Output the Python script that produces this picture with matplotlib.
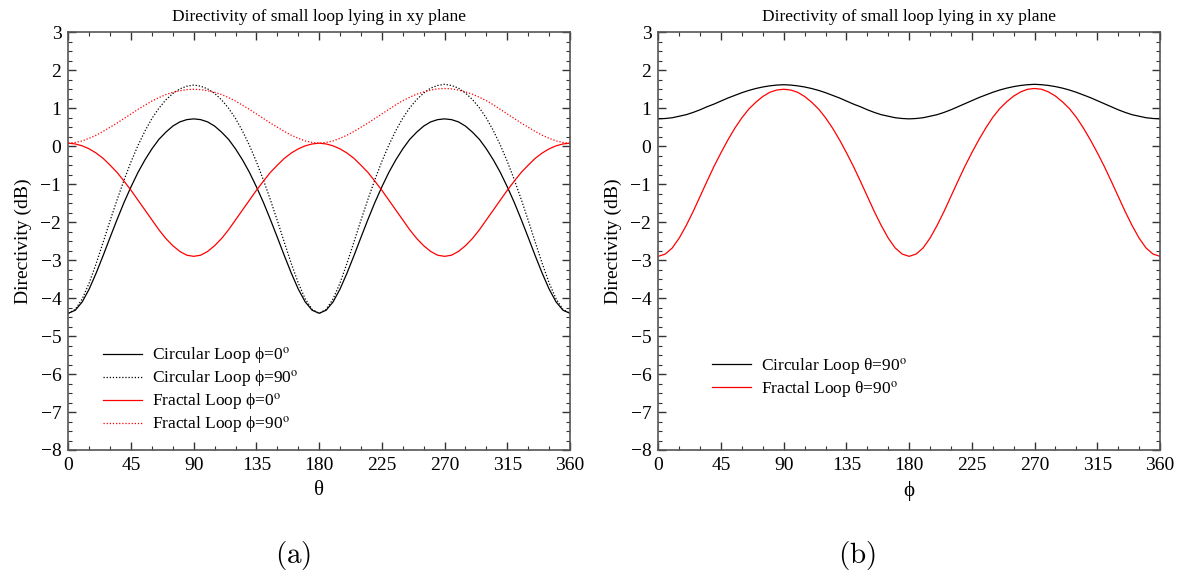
import numpy as np
import matplotlib
matplotlib.use('Agg')
import matplotlib.pyplot as plt
from matplotlib.ticker import MultipleLocator

plt.rcParams['font.family'] = ['Liberation Serif', 'DejaVu Serif']
plt.rcParams['mathtext.fontset'] = 'stix'

# angle grid, 5 degree steps (0..360)
angle = np.arange(0, 360.1, 5)

# (a) directivity vs theta  (quarters: 0-90, 95-180, 185-270, 275-360)
circ_phi0 = ([-4.40, -4.32, -4.10, -3.76, -3.34, -2.88, -2.40, -1.93, -1.48, -1.07, -0.69, -0.36, -0.07, 0.18, 0.37, 0.53, 0.64, 0.70, 0.72]
             + [0.70, 0.64, 0.53, 0.37, 0.18, -0.07, -0.36, -0.69, -1.07, -1.48, -1.93, -2.40, -2.88, -3.34, -3.76, -4.10, -4.32, -4.40]
             + [-4.32, -4.10, -3.76, -3.34, -2.88, -2.40, -1.93, -1.48, -1.07, -0.69, -0.36, -0.07, 0.18, 0.37, 0.53, 0.64, 0.70, 0.72]
             + [0.70, 0.64, 0.53, 0.37, 0.18, -0.07, -0.36, -0.69, -1.07, -1.48, -1.93, -2.40, -2.88, -3.34, -3.76, -4.10, -4.32, -4.40])
circ_phi90 = ([-4.40, -4.30, -4.02, -3.60, -3.09, -2.53, -1.96, -1.41, -0.89, -0.41, 0.02, 0.40, 0.73, 1.00, 1.22, 1.39, 1.51, 1.58, 1.61]
              + [1.58, 1.51, 1.39, 1.22, 1.00, 0.73, 0.40, 0.02, -0.41, -0.89, -1.41, -1.96, -2.53, -3.09, -3.60, -4.02, -4.30, -4.40]
              + [-4.30, -4.02, -3.60, -3.08, -2.52, -1.95, -1.40, -0.88, -0.40, 0.03, 0.41, 0.74, 1.01, 1.23, 1.40, 1.53, 1.60, 1.63]
              + [1.60, 1.53, 1.40, 1.23, 1.01, 0.74, 0.41, 0.03, -0.40, -0.88, -1.40, -1.95, -2.52, -3.08, -3.60, -4.02, -4.30, -4.40])
frac_phi0 = ([0.08, 0.06, 0.01, -0.07, -0.18, -0.32, -0.50, -0.69, -0.92, -1.16, -1.42, -1.68, -1.94, -2.20, -2.43, -2.62, -2.77, -2.87, -2.90]
             + [-2.87, -2.77, -2.62, -2.43, -2.20, -1.94, -1.68, -1.42, -1.16, -0.92, -0.69, -0.50, -0.32, -0.18, -0.07, 0.01, 0.06, 0.08]
             + [0.06, 0.01, -0.07, -0.18, -0.32, -0.50, -0.69, -0.92, -1.16, -1.42, -1.68, -1.94, -2.20, -2.43, -2.62, -2.77, -2.87, -2.90]
             + [-2.87, -2.77, -2.62, -2.43, -2.20, -1.94, -1.68, -1.42, -1.16, -0.92, -0.69, -0.50, -0.32, -0.18, -0.07, 0.01, 0.06, 0.08])
frac_phi90 = ([0.08, 0.10, 0.14, 0.21, 0.29, 0.39, 0.50, 0.61, 0.73, 0.85, 0.97, 1.08, 1.19, 1.28, 1.36, 1.42, 1.46, 1.49, 1.50]
              + [1.49, 1.46, 1.42, 1.36, 1.28, 1.19, 1.08, 0.97, 0.85, 0.73, 0.61, 0.50, 0.39, 0.29, 0.21, 0.14, 0.10, 0.08]
              + [0.10, 0.14, 0.21, 0.29, 0.39, 0.50, 0.61, 0.73, 0.85, 0.97, 1.09, 1.20, 1.29, 1.37, 1.43, 1.48, 1.51, 1.52]
              + [1.51, 1.48, 1.43, 1.37, 1.29, 1.20, 1.09, 0.97, 0.85, 0.73, 0.61, 0.50, 0.39, 0.29, 0.21, 0.14, 0.10, 0.08])

# (b) directivity vs phi at theta = 90
circ_th90 = ([0.72, 0.73, 0.75, 0.79, 0.83, 0.89, 0.96, 1.04, 1.11, 1.19, 1.27, 1.34, 1.41, 1.47, 1.52, 1.56, 1.59, 1.61, 1.62]
             + [1.61, 1.59, 1.56, 1.52, 1.47, 1.41, 1.34, 1.27, 1.19, 1.11, 1.04, 0.96, 0.89, 0.83, 0.79, 0.75, 0.73, 0.72]
             + [0.73, 0.75, 0.79, 0.83, 0.89, 0.96, 1.04, 1.12, 1.20, 1.28, 1.35, 1.42, 1.48, 1.53, 1.57, 1.60, 1.62, 1.63]
             + [1.62, 1.60, 1.57, 1.53, 1.48, 1.42, 1.35, 1.28, 1.20, 1.12, 1.04, 0.96, 0.89, 0.83, 0.79, 0.75, 0.73, 0.72])
frac_th90 = ([-2.90, -2.84, -2.68, -2.42, -2.09, -1.72, -1.32, -0.92, -0.53, -0.17, 0.17, 0.48, 0.75, 0.98, 1.16, 1.31, 1.42, 1.48, 1.50]
             + [1.48, 1.42, 1.31, 1.16, 0.98, 0.75, 0.48, 0.17, -0.17, -0.53, -0.92, -1.32, -1.72, -2.09, -2.42, -2.68, -2.84, -2.90]
             + [-2.84, -2.68, -2.42, -2.09, -1.72, -1.32, -0.92, -0.53, -0.17, 0.17, 0.48, 0.76, 0.99, 1.17, 1.32, 1.43, 1.50, 1.52]
             + [1.50, 1.43, 1.32, 1.17, 0.99, 0.76, 0.48, 0.17, -0.17, -0.53, -0.92, -1.32, -1.72, -2.09, -2.42, -2.68, -2.84, -2.90])

W, H = 1199, 584
fig = plt.figure(figsize=(W / 100, H / 100), dpi=100)
ax1 = fig.add_axes([68.3 / W, (H - 450) / H, 501.7 / W, 417.7 / H])
ax2 = fig.add_axes([658.3 / W, (H - 450) / H, 501.7 / W, 417.7 / H])

lw = 0.9
dots = (0, (1, 1.5))
ax1.plot(angle, circ_phi0, color='black', lw=lw, label='Circular Loop \u03d5=0$^{\\rm o}$')
ax1.plot(angle, circ_phi90, color='black', lw=lw, ls=dots, label='Circular Loop \u03d5=90$^{\\rm o}$')
ax1.plot(angle, frac_phi0, color='red', lw=lw, label='Fractal Loop \u03d5=0$^{\\rm o}$')
ax1.plot(angle, frac_phi90, color='red', lw=lw, ls=dots, label='Fractal Loop \u03d5=90$^{\\rm o}$')

ax2.plot(angle, circ_th90, color='black', lw=lw, label='Circular Loop \u03b8=90$^{\\rm o}$')
ax2.plot(angle, frac_th90, color='red', lw=lw, label='Fractal Loop \u03b8=90$^{\\rm o}$')

for ax, xl in [(ax1, '\u03b8'), (ax2, '\u03d5')]:
    ax.set_xlim(0, 360)
    ax.set_ylim(-8, 3)
    ax.set_xticks(range(0, 361, 45))
    ax.set_yticks(range(-8, 4))
    ax.xaxis.set_minor_locator(MultipleLocator(15))
    ax.yaxis.set_minor_locator(MultipleLocator(0.25))
    ax.tick_params(which='both', direction='in', top=True, right=True, labelsize=14, color='#333333')
    ax.tick_params(which='major', length=6, width=1, pad=5)
    ax.tick_params(which='minor', length=3, width=0.8)
    for s in ax.spines.values():
        s.set_color('#555555')
        s.set_linewidth(1.2)
    ax.set_title('Directivity of small loop lying in xy plane', fontsize=12.5, pad=8)
    ax.set_xlabel(xl, fontsize=15, labelpad=5)
    ax.set_ylabel('Directivity (dB)', fontsize=14, labelpad=6)

ax1.legend(loc='upper left', bbox_to_anchor=(0.069, 0.25), frameon=False, fontsize=12.5,
           handlelength=2.25, handletextpad=0.55, labelspacing=0.12, borderpad=0, borderaxespad=0)
ax2.legend(loc='upper left', bbox_to_anchor=(0.107, 0.225), frameon=False, fontsize=12.5,
           handlelength=2.25, handletextpad=0.55, labelspacing=0.12, borderpad=0, borderaxespad=0)

fig.text(293 / W, 1 - 555 / H, r'$\mathrm{(a)}$', fontsize=21, ha='center', va='center', math_fontfamily='cm')
fig.text(857 / W, 1 - 555 / H, r'$\mathrm{(b)}$', fontsize=21, ha='center', va='center', math_fontfamily='cm')

fig.savefig('out.png', dpi=100)
